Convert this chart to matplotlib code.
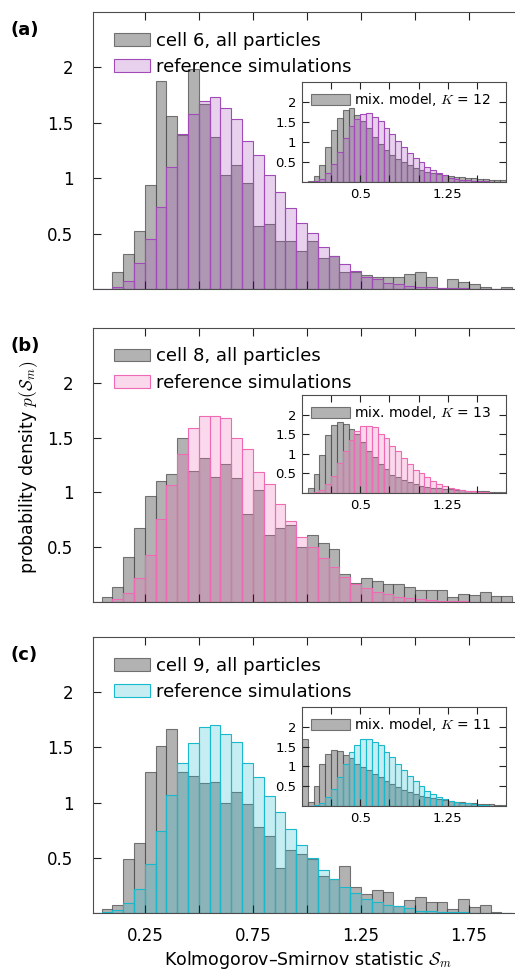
#!/usr/bin/env python3
# -*- coding: utf-8 -*-
"""
Histograms of the Kolmogorov-Smirnov statistic S_m for three cells,
compared with reference simulations; insets show the mixture model.
"""

import numpy as np
import matplotlib.pyplot as plt
from matplotlib.colors import to_rgba
from matplotlib.ticker import FuncFormatter

plt.rcParams['font.family'] = ['DejaVu Sans']
plt.rcParams['mathtext.fontset'] = 'cm'

BIN_WIDTH = 0.05  # bins start at 0.00

# main panels: bins 0.00 ... 1.90
CELL6 = [0, 0, 0.157, 0.316, 0.524, 0.937, 1.88, 1.56, 1.39, 1.99,
         1.67, 1.37, 1.03, 1.12, 0.96, 0.57, 0.59, 0.43, 0.43, 0.34,
         0.43, 0.28, 0.30, 0.157, 0.15, 0.127, 0.11, 0.11, 0.11, 0.133,
         0.157, 0.11, 0.005, 0.087, 0.06, 0.042, 0.02, 0.0, 0.02]
REF6 = [0, 0, 0.015, 0.072, 0.232, 0.45, 0.741, 1.10, 1.40, 1.58,
        1.70, 1.73, 1.63, 1.53, 1.34, 1.21, 1.03, 0.877, 0.735, 0.594,
        0.503, 0.383, 0.30, 0.223, 0.166, 0.11, 0.087, 0.057, 0.042, 0.027,
        0.015, 0.015, 0.01, 0.008, 0.005, 0.004, 0.003, 0.002, 0.001]

CELL8 = [0, 0.042, 0.138, 0.41, 0.673, 0.964, 1.105, 1.165, 1.495, 1.195,
         1.31, 1.144, 1.255, 1.13, 0.80, 1.024, 0.61, 0.673, 0.70, 0.50,
         0.613, 0.538, 0.48, 0.258, 0.17, 0.222, 0.192, 0.168, 0.168, 0.138,
         0.114, 0.108, 0.114, 0.042, 0.072, 0.063, 0.093, 0.054, 0.054]
REF8 = [0, 0, 0.024, 0.078, 0.222, 0.43, 0.754, 1.063, 1.348, 1.59,
        1.70, 1.70, 1.68, 1.50, 1.40, 1.19, 1.08, 0.898, 0.739, 0.595,
        0.505, 0.40, 0.318, 0.228, 0.168, 0.129, 0.093, 0.072, 0.048, 0.039,
        0.024, 0.018, 0.012, 0.008, 0.006, 0.004, 0.003, 0.002, 0.001]

CELL9 = [0, 0.036, 0.072, 0.49, 0.63, 1.278, 1.512, 1.665, 1.28, 1.242,
         1.176, 1.19, 0.996, 1.10, 0.99, 0.78, 0.70, 0.411, 0.567, 0.53,
         0.49, 0.336, 0.312, 0.426, 0.24, 0.171, 0.21, 0.186, 0.066, 0.12,
         0.141, 0.102, 0.102, 0.036, 0.126, 0.051, 0.072, 0.006, 0.003]
REF9 = [0, 0.008, 0.027, 0.087, 0.216, 0.44, 0.741, 1.071, 1.356, 1.536,
        1.686, 1.70, 1.62, 1.545, 1.362, 1.236, 1.056, 0.912, 0.765, 0.62,
        0.50, 0.387, 0.306, 0.237, 0.177, 0.126, 0.096, 0.072, 0.066, 0.042,
        0.021, 0.015, 0.01, 0.007, 0.005, 0.004, 0.003, 0.002, 0.001]

# insets: mixture model, bins 0.00 ... 1.70
MIX12 = [0, 0.03, 0.14, 0.43, 0.87, 1.29, 1.61, 1.80, 1.86, 1.68,
         1.52, 1.36, 1.12, 0.95, 0.80, 0.68, 0.58, 0.49, 0.42, 0.35,
         0.30, 0.26, 0.22, 0.19, 0.17, 0.15, 0.13, 0.12, 0.10, 0.09,
         0.08, 0.07, 0.06, 0.05, 0.04]
MIX13 = [0, 0.14, 0.49, 0.98, 1.47, 1.73, 1.81, 1.75, 1.64, 1.51,
         1.30, 1.07, 0.92, 0.73, 0.60, 0.47, 0.41, 0.32, 0.29, 0.22,
         0.19, 0.16, 0.14, 0.12, 0.10, 0.09, 0.08, 0.07, 0.06, 0.05,
         0.04, 0.04, 0.03, 0.03, 0.02]
MIX11 = [1.70, 0.10, 0.51, 1.05, 1.32, 1.41, 1.38, 1.28, 1.20, 1.07,
         0.99, 0.90, 0.82, 0.72, 0.63, 0.55, 0.48, 0.41, 0.36, 0.31,
         0.26, 0.23, 0.19, 0.17, 0.14, 0.13, 0.11, 0.09, 0.08, 0.07,
         0.06, 0.05, 0.04, 0.03, 0.03]

PANELS = [
    ("(a)", "cell 6, all particles", CELL6, REF6, MIX12, 12, "#a24ab8"),
    ("(b)", "cell 8, all particles", CELL8, REF8, MIX13, 13, "#ee6ab4"),
    ("(c)", "cell 9, all particles", CELL9, REF9, MIX11, 11, "#1ab8cc"),
]

FIG_W, FIG_H = 515, 974
# axes boxes in pixels: (left, top, right, bottom)
MAIN_BOXES = [(93, 12, 523, 289), (93, 328, 523, 602), (93, 637, 523, 913)]
INSET_BOXES = [(302, 82, 506, 182), (302, 395, 506, 493), (302, 707, 506, 806)]

GRAY_FACE = (0.5, 0.5, 0.5, 0.6)
GRAY_EDGE = (0.3, 0.3, 0.3, 0.75)
SPINE = "#4d4d4d"
fmt = FuncFormatter(lambda v, p: f"{v:g}")


def box(fig, b):
    l, t, r, btm = b
    return fig.add_axes([l / FIG_W, 1 - btm / FIG_H, (r - l) / FIG_W, (btm - t) / FIG_H])


def draw_hist(ax, gray, ref, color, gray_label, ref_label):
    left = np.arange(len(gray)) * BIN_WIDTH
    ax.bar(left, gray, width=BIN_WIDTH, align='edge', color=GRAY_FACE,
           edgecolor=GRAY_EDGE, linewidth=0.8, label=gray_label)
    left = np.arange(len(ref)) * BIN_WIDTH
    ax.bar(left, ref, width=BIN_WIDTH, align='edge', color=to_rgba(color, 0.25),
           edgecolor=color, linewidth=0.8, label=ref_label)


def style(ax):
    for s in ax.spines.values():
        s.set_color(SPINE)
        s.set_linewidth(0.8)


def main():
    fig = plt.figure(figsize=(FIG_W / 100, FIG_H / 100), dpi=100)

    for i, (tag, lab, cell, ref, mix, k, color) in enumerate(PANELS):
        ax = box(fig, MAIN_BOXES[i])
        draw_hist(ax, cell, ref, color, lab, "reference simulations")
        ax.set_xlim(0.01, 2.0)
        ax.set_ylim(0, 2.5)
        ax.set_xticks([0.25, 0.75, 1.25, 1.75])
        ax.set_xticks([0.5, 1.0, 1.5], minor=True)
        ax.set_yticks([0.5, 1, 1.5, 2])
        ax.yaxis.set_major_formatter(fmt)
        ax.tick_params(which='both', direction='in', top=True, right=True,
                       length=6, width=0.8, color='#222222', labelsize=12)
        ax.tick_params(axis='y', pad=14)
        ax.tick_params(axis='x', pad=10)
        if i < 2:
            ax.tick_params(axis='x', labelbottom=False)
        style(ax)
        ax.legend(loc='upper left', frameon=False, fontsize=13,
                  handlelength=2.0, handleheight=0.7, labelspacing=0.45,
                  handletextpad=0.3, borderaxespad=0.3, bbox_to_anchor=(0.02, 0.975))

        l, t, r, b = MAIN_BOXES[i]
        fig.text(11 / FIG_W, 1 - (t + 18) / FIG_H, tag, fontsize=13,
                 fontweight='bold', va='center', ha='left')

        ins = box(fig, INSET_BOXES[i])
        draw_hist(ins, mix, ref[:len(mix)], color,
                  f"mix. model, $K$ = {k}", None)
        ins.set_xlim(0, 1.75)
        ins.set_ylim(0, 2.5)
        ins.set_xticks([0.5, 1.25])
        ins.set_xticks([0.25, 0.75, 1.0, 1.5], minor=True)
        ins.set_yticks([0.5, 1, 1.5, 2])
        ins.xaxis.set_major_formatter(fmt)
        ins.yaxis.set_major_formatter(fmt)
        ins.tick_params(which='both', direction='in', top=True, right=True,
                        length=5, width=0.8, color='#222222', labelsize=9.5, pad=4)
        style(ins)
        handles, labels = ins.get_legend_handles_labels()
        ins.legend(handles[:1], labels[:1], loc='upper left', frameon=False,
                   fontsize=10, handlelength=2.8, handleheight=0.8,
                   handletextpad=0.3, borderaxespad=0.25)

        if i == 2:
            ax.set_xlabel(r"Kolmogorov–Smirnov statistic $\mathcal{S}_m$",
                          fontsize=12.5, labelpad=3)

    fig.text(29 / FIG_W, 1 - 467 / FIG_H, r"probability density $p(\mathcal{S}_m)$",
             rotation=90, fontsize=12.5, va='center', ha='center')

    fig.savefig("out.png", dpi=100)


if __name__ == "__main__":
    main()
